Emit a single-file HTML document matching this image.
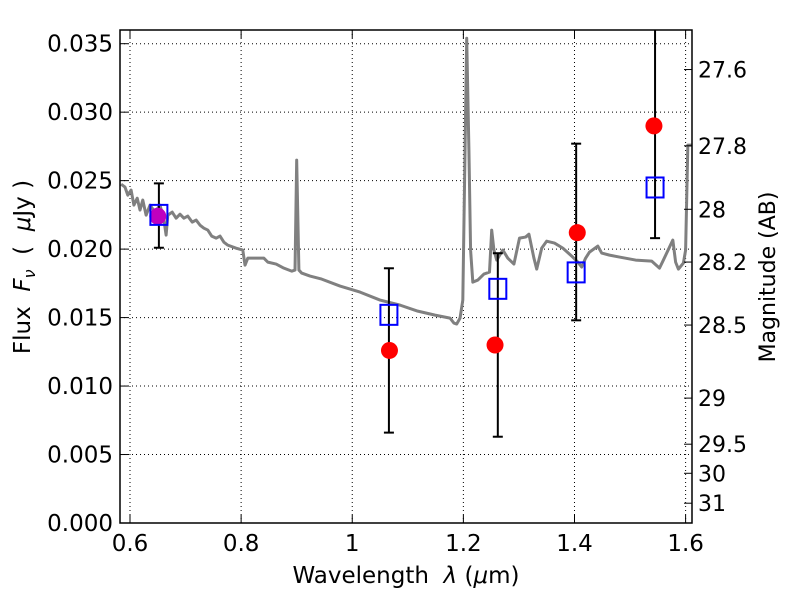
<!DOCTYPE html>
<html><head><meta charset="utf-8"><style>
body{margin:0;background:#fff;}
svg text{font-family:"DejaVu Sans","Liberation Sans",sans-serif;fill:#000;white-space:pre;}
</style></head><body>
<svg id="chart" width="800" height="600" xmlns="http://www.w3.org/2000/svg">
<rect width="800" height="600" fill="#fff"/>
<g id="grid"></g>
<g id="spec"></g>
<g id="marks"></g>
<g id="axes"></g>
<text x="406" y="583" font-size="23" text-anchor="middle">Wavelength  <tspan font-style="italic">λ</tspan> (<tspan font-style="italic">μ</tspan>m)</text>
<text transform="translate(30,267) rotate(-90)" font-size="23" text-anchor="middle">Flux  <tspan font-style="italic">F</tspan><tspan font-style="italic" font-size="16" dy="5">ν</tspan><tspan dy="-5">  (  </tspan><tspan font-style="italic">μ</tspan>Jy )</text>
<text transform="translate(775,277) rotate(-90)" font-size="22" text-anchor="middle">Magnitude (AB)</text>
</svg>
<script>
const xTicks=[0.6,0.8,1.0,1.2,1.4,1.6];
const xTickLabels=["0.6","0.8","1","1.2","1.4","1.6"];
const yTicks=[0,0.005,0.010,0.015,0.020,0.025,0.030,0.035];
const yTickLabels=["0.000","0.005","0.010","0.015","0.020","0.025","0.030","0.035"];
const magTicks=[27.6,27.8,28,28.2,28.5,29,29.5,30,31];
const magTickLabels=["27.6","27.8","28","28.2","28.5","29","29.5","30","31"];
const specWl=[0.584,0.591,0.596,0.602,0.607,0.613,0.618,0.623,0.629,0.636,0.645,0.654,0.661,0.665,0.668,0.676,0.683,0.690,0.697,0.704,0.712,0.719,0.726,0.733,0.740,0.747,0.755,0.762,0.769,0.776,0.791,0.803,0.807,0.812,0.827,0.841,0.848,0.863,0.877,0.891,0.897,0.900,0.904,0.909,0.924,0.945,0.978,1.014,1.050,1.086,1.118,1.149,1.176,1.183,1.188,1.194,1.199,1.203,1.206,1.210,1.213,1.217,1.226,1.237,1.247,1.251,1.255,1.260,1.271,1.280,1.291,1.301,1.312,1.318,1.327,1.332,1.341,1.350,1.364,1.379,1.395,1.406,1.413,1.420,1.427,1.442,1.449,1.463,1.481,1.510,1.539,1.553,1.560,1.577,1.582,1.587,1.596,1.600,1.604,1.611];
const specFlux=[0.02474,0.02453,0.02394,0.02431,0.02321,0.02372,0.02285,0.02358,0.02248,0.02321,0.02270,0.02321,0.02212,0.02102,0.02248,0.02270,0.02226,0.02255,0.02226,0.02241,0.02197,0.02212,0.02175,0.02153,0.02139,0.02095,0.02080,0.02095,0.02051,0.02029,0.02007,0.01993,0.01883,0.01934,0.01934,0.01934,0.01905,0.01891,0.01861,0.01839,0.01847,0.02650,0.01847,0.01825,0.01803,0.01781,0.01730,0.01686,0.01628,0.01591,0.01547,0.01518,0.01496,0.01460,0.01453,0.01496,0.01628,0.02723,0.03540,0.02723,0.01993,0.01759,0.01774,0.01818,0.01832,0.02139,0.01993,0.01920,0.01993,0.01934,0.01891,0.02080,0.02088,0.02109,0.01934,0.01854,0.02007,0.02058,0.02044,0.02007,0.01949,0.01905,0.01869,0.01934,0.01978,0.02022,0.01971,0.01956,0.01942,0.01920,0.01912,0.01861,0.01920,0.02066,0.01905,0.01854,0.01898,0.01993,0.02759,0.02759];
const circWl=[0.65,1.067,1.257,1.405,1.543];
const circFlux=[0.0224,0.0126,0.0130,0.0212,0.0290];
const circColors=["#bf00bf","#ff0000","#ff0000","#ff0000","#ff0000"];
const sqWl=[0.652,1.066,1.262,1.403,1.545];
const sqFlux=[0.0225,0.0152,0.0171,0.0183,0.0245];
const errLow=[0.0201,0.0066,0.0063,0.0148,0.0208];
const errHigh=[0.0248,0.0186,0.0197,0.0277,0.0380];

const L=120,R=692,T=30,B=523;
const xMin=0.582,xMax=1.6115,yMin=0,yMax=0.036;
const X=v=>L+(v-xMin)/(xMax-xMin)*(R-L);
const Y=v=>B-(v-yMin)/(yMax-yMin)*(B-T);
const magToFlux=m=>Math.pow(10,(23.9-m)/2.5);
const NS="http://www.w3.org/2000/svg";
function mk(tag,attrs,parent){const e=document.createElementNS(NS,tag);for(const k in attrs)e.setAttribute(k,attrs[k]);parent.appendChild(e);return e;}
const grid=document.getElementById('grid'),axes=document.getElementById('axes'),spec=document.getElementById('spec'),marks=document.getElementById('marks');

xTicks.forEach((t,i)=>{const x=X(t);
 const g=mk('line',{x1:x,x2:x,y1:T,y2:B,stroke:'#000','stroke-width':1,'stroke-dasharray':'1,3'},grid);
 
 
 mk('line',{x1:x,x2:x,y1:B,y2:B-8,stroke:'#000'},axes);
 mk('line',{x1:x,x2:x,y1:T,y2:T+8,stroke:'#000'},axes);
 const tx=mk('text',{x:x,y:B+28,'font-size':23,'text-anchor':'middle'},axes);tx.textContent=xTickLabels[i];
 
 
});
yTicks.forEach((t,i)=>{const y=Y(t);
 const g=mk('line',{x1:L,x2:R,y1:y,y2:y,stroke:'#000','stroke-width':1,'stroke-dasharray':'1,3'},grid);
 
 
 mk('line',{x1:L,x2:L+8,y1:y,y2:y,stroke:'#000'},axes);
 const tx=mk('text',{x:L-7,y:y+8,'font-size':23,'text-anchor':'end'},axes);tx.textContent=yTickLabels[i];
 
 
});
magTicks.forEach((m,i)=>{const y=Y(magToFlux(m));
 mk('line',{x1:R,x2:R-8,y1:y,y2:y,stroke:'#000'},axes);
 const tx=mk('text',{x:R+6,y:y+8,'font-size':22,'text-anchor':'start'},axes);tx.textContent=magTickLabels[i];
 
 
});
const fr=mk('rect',{x:L,y:T,width:R-L,height:B-T,fill:'none',stroke:'#000','stroke-width':1.5},axes);



const pl=mk('polyline',{points:specWl.map((w,i)=>X(w)+','+Y(specFlux[i])).join(' '),fill:'none',stroke:'#808080','stroke-width':3,'stroke-linejoin':'round'},spec);



const cp=mk('clipPath',{id:'clip'},marks);mk('rect',{x:L,y:T,width:R-L,height:B-T},cp);
const mg=mk('g',{'clip-path':'url(#clip)'},marks);
sqWl.forEach((w,i)=>{const x=X(w);
 const e=mk('line',{x1:x,x2:x,y1:Y(errLow[i]),y2:Y(errHigh[i]),stroke:'#000','stroke-width':2},mg);
 
 
 [errLow[i],errHigh[i]].forEach(v=>mk('line',{x1:x-5,x2:x+5,y1:Y(v),y2:Y(v),stroke:'#000','stroke-width':2},mg));
});
circWl.forEach((w,i)=>{
 const c=mk('circle',{cx:X(w),cy:Y(circFlux[i]),r:8.5,fill:circColors[i]},mg);
 
 
});
sqWl.forEach((w,i)=>{
 const s=mk('rect',{x:X(w)-8.5,y:Y(sqFlux[i])-10,width:17,height:20,fill:'none',stroke:'#0000ff','stroke-width':2},mg);
 
 
});
</script>
</body></html>
